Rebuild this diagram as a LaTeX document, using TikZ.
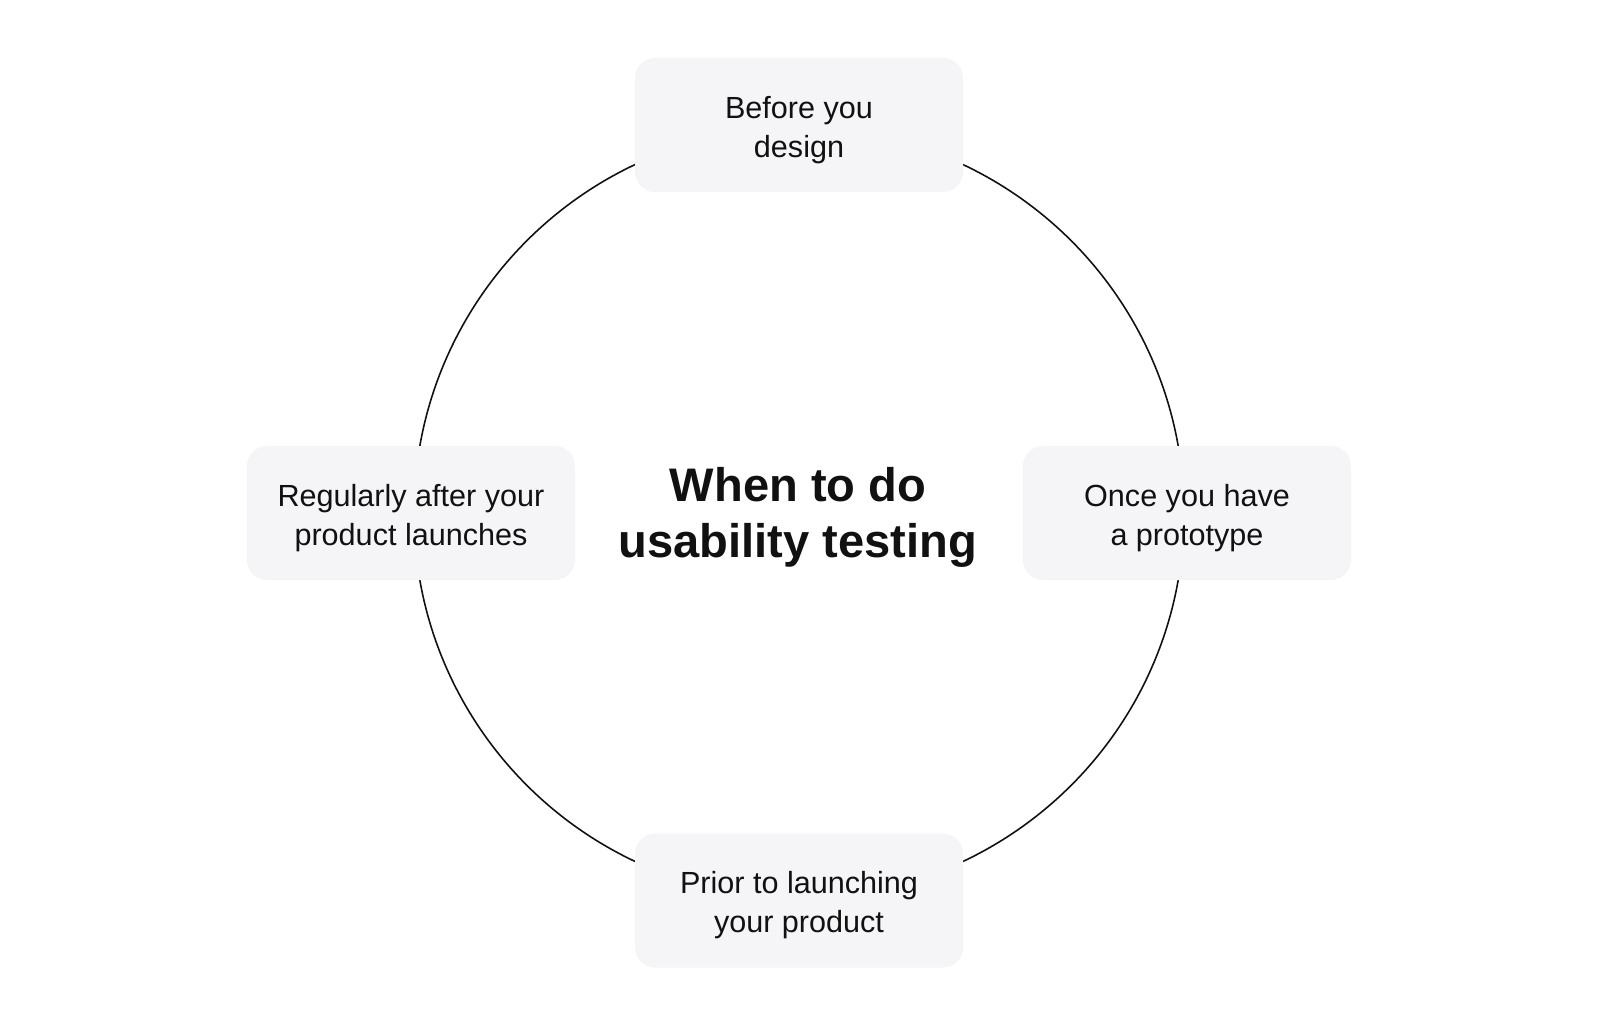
\documentclass[tikz,border=0pt]{standalone}
\usepackage{fontspec}
\setmainfont{Liberation Sans}
\usepackage{tikz}
\definecolor{boxfill}{HTML}{F5F5F8}
\definecolor{inkcol}{HTML}{111111}
\tikzset{
    moment/.style={rectangle, rounded corners=0.2cm, fill=boxfill, minimum width=3.28cm,
        minimum height=1.34cm, align=center, text height=20.25pt,
        font=\fontsize{8.7}{11.1}\selectfont, text=inkcol},
    heading/.style={align=center, text height=28pt,
        font=\fontsize{13.4}{15.9}\selectfont\bfseries, text=inkcol}
}
\begin{document}
\begin{tikzpicture}
            \useasboundingbox (0, 0) rectangle (16, -10.28);
            \fill[white] (0, 0) rectangle (16, -10.28);

            \coordinate (c) at (7.99, -5.13);
            \draw[inkcol, line width=0.45pt] (c) circle (3.85);

            \node[heading] (title) at (7.98, -5.13) {When to do\\usability testing};

            \node[moment] (before) at (7.99, -1.25) {Before you\\design};
            \node[moment] (proto) at (11.87, -5.13) {Once you have\\a prototype};
            \node[moment] (prior) at (7.99, -9.005) {Prior to launching\\your product};
            \node[moment] (after) at (4.11, -5.13) {Regularly after your\\product launches};
\end{tikzpicture}
\end{document}
